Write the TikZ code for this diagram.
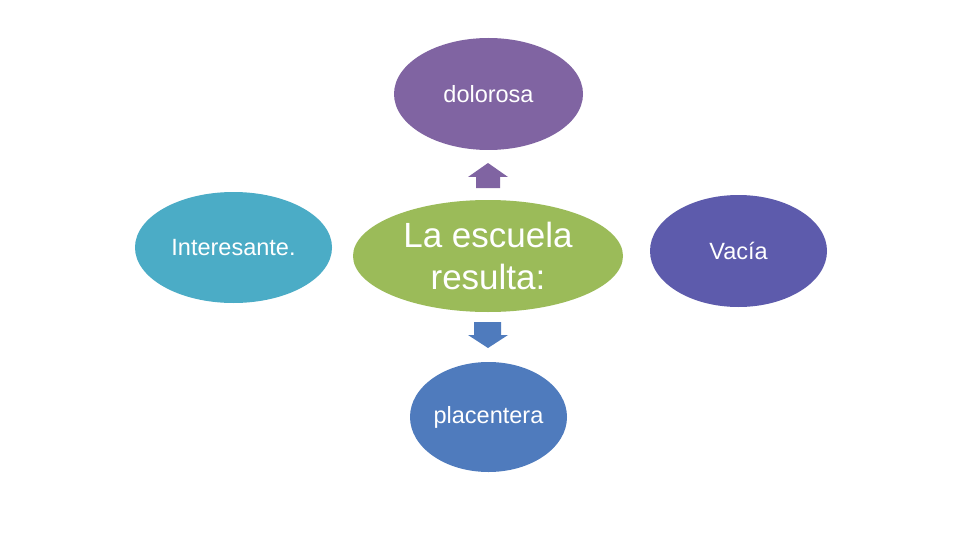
\documentclass[tikz,border=0pt]{standalone}
\usepackage{fontspec}
\setmainfont{Liberation Sans}
\usetikzlibrary{shapes.geometric}
\definecolor{cpurple}{HTML}{8064A2}
\definecolor{cteal}{HTML}{4BACC6}
\definecolor{cgreen}{HTML}{9BBB59}
\definecolor{cviolet}{HTML}{5D5BAC}
\definecolor{cblue}{HTML}{4F7BBD}
\tikzset{
  bub/.style={ellipse, inner sep=0pt, text=white, font=\fontsize{23.5}{28}\selectfont},
}
\begin{document}
\begin{tikzpicture}[x=1pt,y=-1pt]
\useasboundingbox[fill=white] (0,0) rectangle (960,540);
\node[bub, fill=cpurple, minimum width=189pt, minimum height=112pt] (dol) at (488.5,94) {dolorosa};
\node[bub, fill=cteal, minimum width=197pt, minimum height=111pt] (int) at (233.5,247.5) {Interesante.};
\node[bub, fill=cgreen, minimum width=270pt, minimum height=112pt, align=center, font=\fontsize{35}{42}\selectfont] (esc) at (488,256) {La escuela\\resulta:};
\node[bub, fill=cviolet, minimum width=177pt, minimum height=112pt] (vac) at (738.5,251) {Vac\'ia};
\node[bub, fill=cblue, minimum width=157pt, minimum height=110pt] (pla) at (488.5,417) {placentera};
\fill[cpurple] (488,163) -- (508,177) -- (500,177) -- (500,188) -- (476,188) -- (476,177) -- (468,177) -- cycle;
\fill[cblue] (474,322) -- (501,322) -- (501,335) -- (508,335) -- (488,348) -- (468,335) -- (474,335) -- cycle;
\end{tikzpicture}
\end{document}
